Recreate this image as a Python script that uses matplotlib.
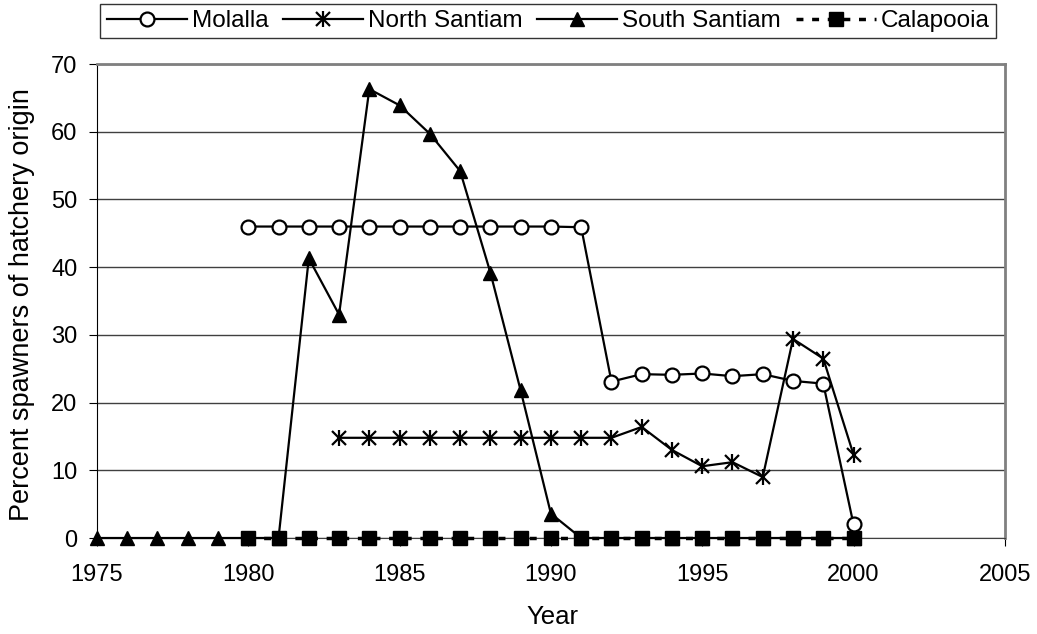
import numpy as np
import matplotlib.pyplot as plt

plt.rcParams['font.family'] = ['Liberation Sans', 'DejaVu Sans']

years_mol = list(range(1980, 2001))
molalla = [46, 46, 46, 46, 46, 46, 46, 46, 46, 46, 46, 45.9,
           23.1, 24.2, 24.1, 24.3, 23.9, 24.2, 23.2, 22.8, 2.0]

years_ns = list(range(1983, 2001))
north_santiam = [14.8, 14.8, 14.8, 14.8, 14.8, 14.8, 14.8, 14.8, 14.8, 14.8,
                 16.4, 13.0, 10.6, 11.2, 9.0, 29.4, 26.5, 12.3]

years_ss = list(range(1975, 2001))
south_santiam = [0, 0, 0, 0, 0, 0, 0, 41.3, 33.0, 66.3, 63.9, 59.7, 54.2,
                 39.2, 21.8, 3.6, 0, 0, 0, 0, 0, 0, 0, 0, 0, 0]

years_cal = list(range(1980, 2001))
calapooia = [0] * len(years_cal)

fig = plt.figure(figsize=(10.37, 6.34), dpi=100)
ax = fig.add_axes([0.0935, 0.1514, 0.8755, 0.7476])

h_ss, = ax.plot(years_ss, south_santiam, color='black', lw=1.6, marker='^', ms=10,
                mfc='black', mec='black', clip_on=False, zorder=3)
h_cal, = ax.plot(years_cal, calapooia, color='black', lw=2.5, ls=(0, (2, 2.5)), marker='s', ms=10,
                 mfc='black', mec='black', clip_on=False, zorder=4)
h_ns, = ax.plot(years_ns, north_santiam, color='black', lw=1.6, marker='x', ms=10, mew=1.6,
                clip_on=False, zorder=5)
h_ns2, = ax.plot(years_ns, north_santiam, color='none', marker='|', ms=11, mew=1.6,
                 mec='black', clip_on=False, zorder=5)
h_mol, = ax.plot(years_mol, molalla, color='black', lw=1.6, marker='o', ms=10, mew=1.6,
                 mfc='white', mec='black', clip_on=False, zorder=6)

ax.set_xlim(1975, 2005)
ax.set_ylim(0, 70)
ax.set_xticks(np.arange(1975, 2006, 5))
ax.set_yticks(np.arange(0, 71, 10))
ax.yaxis.grid(True, color='#404040', lw=1)
ax.set_axisbelow(True)

for s in ['top', 'right']:
    ax.spines[s].set_color('#808080')
    ax.spines[s].set_linewidth(2)
ax.spines['left'].set_color('black')
ax.spines['bottom'].set_color('#404040')
ax.tick_params(axis='both', direction='out', length=6, labelsize=17, color='black')
ax.tick_params(axis='x', pad=13)
ax.tick_params(axis='y', pad=8)

fig.text(552 / 1037, 1 - 617 / 634, 'Year', fontsize=18.5, ha='center', va='center')
fig.text(22 / 1037, 1 - 305 / 634, 'Percent spawners of hatchery origin', fontsize=19.5,
         rotation=90, ha='center', va='center')

leg = fig.legend([h_mol, (h_ns, h_ns2), h_ss, h_cal],
                 ['Molalla', 'North Santiam', 'South Santiam', 'Calapooia'],
                 loc='upper center', bbox_to_anchor=(548 / 1037, 1 - 4 / 634), ncol=4,
                 fontsize=17.5, frameon=True, fancybox=False, edgecolor='black',
                 handlelength=3.3, handletextpad=0.2, columnspacing=0.6, borderpad=0.25,
                 borderaxespad=0)
leg.get_frame().set_linewidth(1)

fig.savefig('out.png', dpi=100)
